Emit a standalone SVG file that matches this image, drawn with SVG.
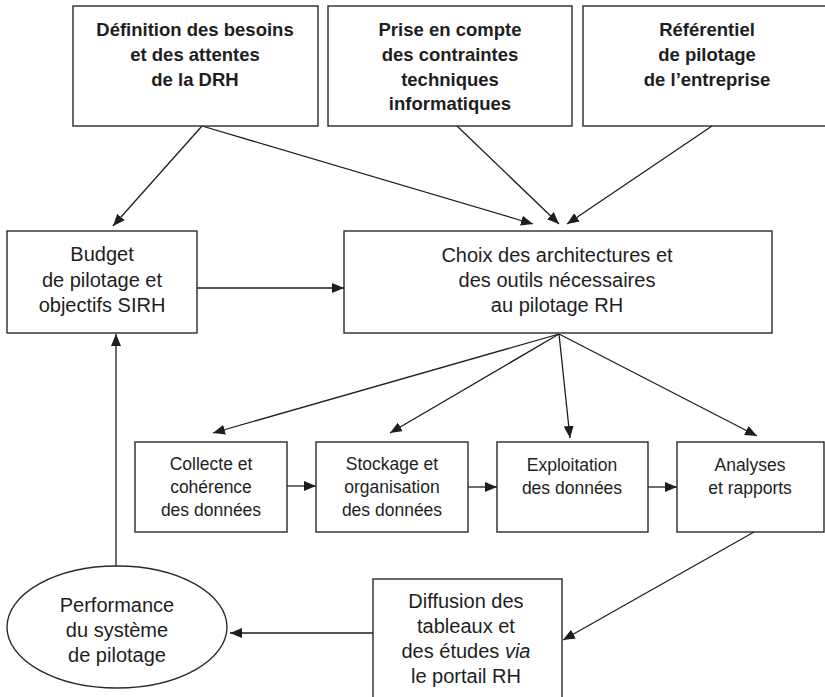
<svg xmlns="http://www.w3.org/2000/svg" width="825" height="697" viewBox="0 0 825 697">
<style>
.box{fill:#fff;stroke:#2a2a2a;stroke-width:1.4}
.t{font-family:"Liberation Sans",Arial,sans-serif;font-size:20px;fill:#1e1e1e;text-anchor:middle}
.b{font-weight:bold;font-size:18.5px}
.s{font-size:17.5px}
.e{stroke:#1e1e1e;stroke-width:1.3;fill:none;marker-end:url(#ah)}
</style>
<defs>
<marker id="ah" markerWidth="12" markerHeight="10" refX="12" refY="5" orient="auto" markerUnits="userSpaceOnUse">
<path d="M0,0 L12,5 L0,10 z" fill="#1e1e1e"/>
</marker>
</defs>
<rect width="825" height="697" fill="#fff"/>
<g id="connectors">
<line class="e" x1="202" y1="126" x2="113" y2="226"/>
<line class="e" x1="202" y1="126" x2="533" y2="224"/>
<line class="e" x1="457" y1="126" x2="559" y2="224"/>
<line class="e" x1="712" y1="126" x2="567" y2="224"/>
<line class="e" x1="197" y1="288" x2="344" y2="288"/>
<line class="e" x1="559" y1="334" x2="213" y2="433"/>
<line class="e" x1="559" y1="334" x2="390" y2="433"/>
<line class="e" x1="559" y1="334" x2="570" y2="438"/>
<line class="e" x1="559" y1="334" x2="757" y2="436"/>
<line class="e" x1="287" y1="486" x2="316" y2="486"/>
<line class="e" x1="468" y1="487" x2="497" y2="487"/>
<line class="e" x1="648" y1="487" x2="677" y2="487"/>
<line class="e" x1="754" y1="532" x2="563" y2="640"/>
<line class="e" x1="373" y1="633" x2="230" y2="633"/>
<line class="e" x1="116" y1="566" x2="116" y2="334"/>
</g>
<g id="n1">
<rect class="box" x="73" y="6" width="245" height="120"/>
<text class="t b" x="195" y="36">Définition des besoins</text>
<text class="t b" x="195" y="61">et des attentes</text>
<text class="t b" x="195" y="86">de la DRH</text>
</g>
<g id="n2">
<rect class="box" x="328" y="6" width="244" height="120"/>
<text class="t b" x="450" y="36">Prise en compte</text>
<text class="t b" x="450" y="61">des contraintes</text>
<text class="t b" x="450" y="86">techniques</text>
<text class="t b" x="450" y="110">informatiques</text>
</g>
<g id="n3">
<rect class="box" x="583" y="6" width="250" height="120"/>
<text class="t b" x="707" y="36">Référentiel</text>
<text class="t b" x="707" y="61">de pilotage</text>
<text class="t b" x="707" y="86">de l’entreprise</text>
</g>
<g id="n4">
<rect class="box" x="7" y="231" width="190" height="102"/>
<text class="t" x="102" y="261">Budget</text>
<text class="t" x="102" y="287">de pilotage et</text>
<text class="t" x="102" y="312">objectifs SIRH</text>
</g>
<g id="n5">
<rect class="box" x="344" y="231" width="428" height="102"/>
<text class="t" x="557" y="262">Choix des architectures et</text>
<text class="t" x="557" y="287">des outils nécessaires</text>
<text class="t" x="557" y="312">au pilotage RH</text>
</g>
<g id="n6">
<rect class="box" x="135" y="442" width="152" height="90"/>
<text class="t s" x="211" y="470">Collecte et</text>
<text class="t s" x="211" y="493">cohérence</text>
<text class="t s" x="211" y="516">des données</text>
</g>
<g id="n7">
<rect class="box" x="316" y="442" width="152" height="90"/>
<text class="t s" x="392" y="470">Stockage et</text>
<text class="t s" x="392" y="493">organisation</text>
<text class="t s" x="392" y="516">des données</text>
</g>
<g id="n8">
<rect class="box" x="497" y="442" width="151" height="90"/>
<text class="t s" x="572" y="471">Exploitation</text>
<text class="t s" x="572" y="494">des données</text>
</g>
<g id="n9">
<rect class="box" x="677" y="442" width="147" height="90"/>
<text class="t s" x="750" y="471">Analyses</text>
<text class="t s" x="750" y="494">et rapports</text>
</g>
<g id="n10">
<rect class="box" x="373" y="579" width="189" height="130"/>
<text class="t" x="466" y="608">Diffusion des</text>
<text class="t" x="466" y="633">tableaux et</text>
<text class="t" x="466" y="658">des études <tspan font-style="italic">via</tspan></text>
<text class="t" x="466" y="683">le portail RH</text>
</g>
<g id="n11">
<ellipse class="box" cx="117" cy="627" rx="110" ry="61"/>
<text class="t" x="117" y="612">Performance</text>
<text class="t" x="117" y="637">du système</text>
<text class="t" x="117" y="662">de pilotage</text>
</g>
</svg>
